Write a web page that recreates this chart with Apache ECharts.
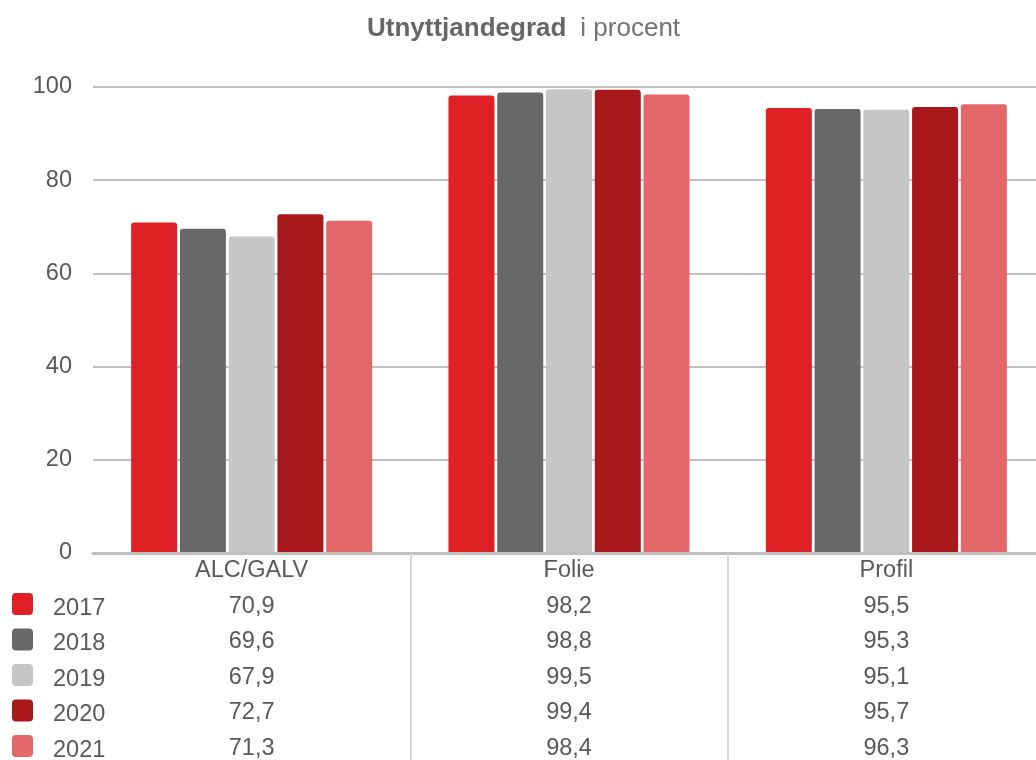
<!DOCTYPE html>
<html>
<head>
<meta charset="utf-8">
<script src="https://cdn.jsdelivr.net/npm/echarts@6/dist/echarts.min.js"></script>
<style>html,body{margin:0;padding:0;background:#fff}#c{width:1036px;height:760px}</style>
</head>
<body>
<div id="c"></div>
<script>
const categories = ['ALC/GALV', 'Folie', 'Profil'];
const years = ['2017', '2018', '2019', '2020', '2021'];
const v2017 = [70.9, 98.2, 95.5];
const v2018 = [69.6, 98.8, 95.3];
const v2019 = [67.9, 99.5, 95.1];
const v2020 = [72.7, 99.4, 95.7];
const v2021 = [71.3, 98.4, 96.3];
const yTicks = [0, 20, 40, 60, 80, 100];

const seriesValues = [v2017, v2018, v2019, v2020, v2021];
const colors = ['#df2024', '#686868', '#c6c6c6', '#a9181b', '#e4676a'];
const FONT = '"Liberation Sans", Arial, sans-serif';
const TXT = '#595959';
const fmt = v => v.toFixed(1).replace('.', ',');
// rounded square in the upper part of a 21x30 box, so the label sits a little lower
const LEGEND_ICON = 'path://M4,0 H17 A4,4 0 0 1 21,4 V18 A4,4 0 0 1 17,22 H4 A4,4 0 0 1 0,18 V4 A4,4 0 0 1 4,0 Z M0,31';

const chart = echarts.init(document.getElementById('c'), null, {renderer: 'canvas'});
chart.setOption({
  animation: false,
  backgroundColor: '#fff',
  title: {
    left: 367,
    top: 16,
    padding: 0,
    text: '{b|Utnyttjandegrad}{n|i procent}',
    textStyle: {
      rich: {
        b: {fontFamily: FONT, fontSize: 26, fontWeight: 'bold', color: '#666666'},
        n: {fontFamily: FONT, fontSize: 26, fontWeight: 'normal', color: '#737373', padding: [0, 0, 0, 14]}
      }
    }
  },
  legend: {
    orient: 'vertical',
    left: 12,
    top: 593,
    height: 180,
    padding: 0,
    itemWidth: 21,
    itemHeight: 31,
    itemGap: 4.5,
    icon: LEGEND_ICON,
    data: years,
    textStyle: {fontFamily: FONT, fontSize: 23.5, color: TXT, padding: [0, 0, 0, 15]}
  },
  grid: {left: 93, width: 952, top: 87, bottom: 207, outerBoundsMode: 'none', containLabel: false},
  xAxis: {
    type: 'category',
    data: categories,
    boundaryGap: true,
    axisLine: {lineStyle: {color: '#bfbfbf', width: 3}},
    axisTick: {
      show: true,
      length: 210,
      interval: function (i) { return i !== 0; },
      lineStyle: {color: '#d6d6d6', width: 2}
    },
    axisLabel: {
      margin: 0,
      interval: 0,
      formatter: function (value, idx) {
        const lines = ['{c|' + value + '}'];
        seriesValues.forEach(arr => lines.push('{c|' + fmt(arr[idx]) + '}'));
        return lines.join('\n');
      },
      rich: {
        c: {fontFamily: FONT, fontSize: 23.5, color: TXT, lineHeight: 35.5, align: 'center'}
      }
    },
    z: 5
  },
  yAxis: {
    type: 'value',
    min: yTicks[0],
    max: yTicks[yTicks.length - 1],
    interval: yTicks[1] - yTicks[0],
    axisLine: {show: false},
    axisTick: {show: false},
    axisLabel: {margin: 21, fontFamily: FONT, fontSize: 23.5, color: TXT},
    splitLine: {lineStyle: {color: '#c0c0c0', width: 2}}
  },
  series: years.map((y, i) => ({
    name: y,
    type: 'bar',
    data: seriesValues[i],
    barWidth: 46,
    barGap: '6%',
    itemStyle: {color: colors[i], borderRadius: [3, 3, 0, 0]},
    z: 2
  }))
});
</script>
</body>
</html>
